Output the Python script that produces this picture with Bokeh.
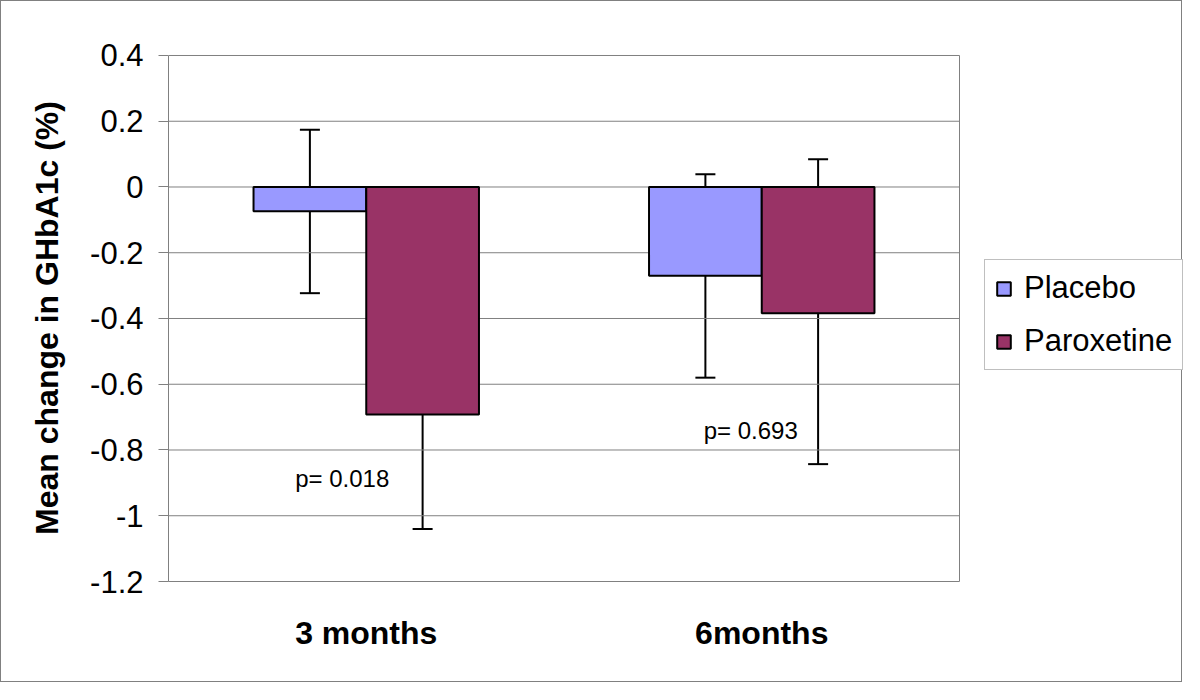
from bokeh.plotting import figure
from bokeh.models import (ColumnDataSource, FixedTicker, Legend, LegendItem, Range1d,
                          Whisker, TeeHead)
from bokeh.transform import dodge
from bokeh.core.properties import value
from bokeh.embed import file_html
from bokeh.resources import INLINE

# ---- data ----
categories = ["3 months", "6months"]
series = ["Placebo", "Paroxetine"]
placebo_mean = [-0.074, -0.27]
placebo_upper = [0.174, 0.039]
placebo_lower = [-0.323, -0.58]
paroxetine_mean = [-0.692, -0.384]
paroxetine_upper = [-0.338, 0.084]
paroxetine_lower = [-1.04, -0.843]
y_ticks = [-1.2, -1.0, -0.8, -0.6, -0.4, -0.2, 0.0, 0.2, 0.4]
y_tick_labels = ["-1.2", "-1", "-0.8", "-0.6", "-0.4", "-0.2", "0", "0.2", "0.4"]
p_labels = ["p= 0.018", "p= 0.693"]

colors = {"Placebo": "#9999FF", "Paroxetine": "#993366"}
FONT = "Liberation Sans"
GRAY = "#808080"

# ---- layout (pixels) ----
W, H = 1182, 682
LEFT, TOP, BOTTOM = 167, 53, 102
PLOT_W = 791                      # width of the plotted category area
n = len(categories)
x_pos = [i + 0.5 for i in range(n)]
x_end = n * (W - LEFT) / PLOT_W   # extra room on the right holds the legend
y_min, y_max = y_ticks[0], y_ticks[-1]

src = ColumnDataSource(dict(
    x=x_pos, cat=categories,
    placebo=placebo_mean, placebo_up=placebo_upper, placebo_lo=placebo_lower,
    parox=paroxetine_mean, parox_up=paroxetine_upper, parox_lo=paroxetine_lower,
))

p = figure(width=W, height=H, x_range=Range1d(0, x_end), y_range=Range1d(y_min, y_max + 0.003),
           output_backend="svg", toolbar_location=None,
           min_border_left=LEFT, min_border_right=0, min_border_top=TOP, min_border_bottom=BOTTOM)
p.background_fill_color = "white"
p.border_fill_color = "white"
p.outline_line_color = None
p.styles = {"border": "1px solid #808080"}

# gridlines and right edge of plot area
p.segment(x0=0, x1=n, y0=y_ticks, y1=y_ticks, line_color=GRAY, line_width=1)
p.segment(x0=n, x1=n, y0=y_min, y1=y_max, line_color=GRAY, line_width=1)

BW = 0.285
OFF = 0.1425
r1 = p.vbar(x=dodge("x", -OFF), top=0, bottom="placebo", width=BW, source=src,
            fill_color=colors["Placebo"], line_color="black", line_width=2)
r2 = p.vbar(x=dodge("x", OFF), top=0, bottom="parox", width=BW, source=src,
            fill_color=colors["Paroxetine"], line_color="black", line_width=2)

for off, up, lo in [(-OFF, "placebo_up", "placebo_lo"), (OFF, "parox_up", "parox_lo")]:
    w = Whisker(base=dodge("x", off), upper=up, lower=lo, source=src,
                line_color="black", line_width=2,
                upper_head=TeeHead(size=20, line_color="black", line_width=2),
                lower_head=TeeHead(size=20, line_color="black", line_width=2))
    p.add_layout(w)

# p-value annotations
tsrc = ColumnDataSource(dict(x=x_pos, txt=p_labels, y=[-0.888, -0.741], xo=[-24, -11]))
p.text(x="x", y="y", text="txt", x_offset="xo", source=tsrc, text_align="center",
       text_baseline="alphabetic", text_font=value(FONT), text_font_size="24px", text_color="black")

# axes
p.yaxis.ticker = FixedTicker(ticks=y_ticks)
p.yaxis.bounds = (y_min, y_max)
p.yaxis.major_label_overrides = {t: s for t, s in zip(y_ticks, y_tick_labels)}
p.yaxis.axis_label = "Mean change in GHbA1c (%)"
p.yaxis.axis_label_text_font = FONT
p.yaxis.axis_label_text_font_style = "bold"
p.yaxis.axis_label_text_font_size = "32px"
p.yaxis.axis_label_text_color = "black"
p.yaxis.axis_label_standoff = 22
p.yaxis.major_label_text_font = FONT
p.yaxis.major_label_text_font_size = "31px"
p.yaxis.major_label_text_color = "black"
p.yaxis.major_label_standoff = 15
p.yaxis.major_tick_out = 10
p.yaxis.major_tick_in = 0
p.yaxis.minor_tick_line_color = None
p.yaxis.axis_line_color = GRAY
p.yaxis.major_tick_line_color = GRAY

p.xaxis.ticker = FixedTicker(ticks=x_pos)
p.xaxis.major_label_overrides = {x: c for x, c in zip(x_pos, categories)}
p.xaxis.bounds = (0, n)
p.xaxis.major_label_text_font = FONT
p.xaxis.major_label_text_font_style = "bold"
p.xaxis.major_label_text_font_size = "32px"
p.xaxis.major_label_text_color = "black"
p.xaxis.major_label_standoff = 33
p.xaxis.major_tick_line_color = None
p.xaxis.minor_tick_line_color = None
p.xaxis.major_tick_out = 0
p.xaxis.major_tick_in = 0
p.xaxis.axis_line_color = GRAY

p.xgrid.grid_line_color = None
p.ygrid.grid_line_color = None

legend = Legend(items=[LegendItem(label=series[0], renderers=[r1]),
                       LegendItem(label=series[1], renderers=[r2])],
                location=(816, 211), orientation="vertical",
                label_text_font=FONT, label_text_font_size="31px", label_text_color="black",
                glyph_width=17, glyph_height=17, label_standoff=12, spacing=17, padding=10,
                margin=0, border_line_color=GRAY, border_line_width=1,
                background_fill_color="white", background_fill_alpha=1.0)
p.add_layout(legend, "center")

open("out.html", "w").write(file_html(p, INLINE))
